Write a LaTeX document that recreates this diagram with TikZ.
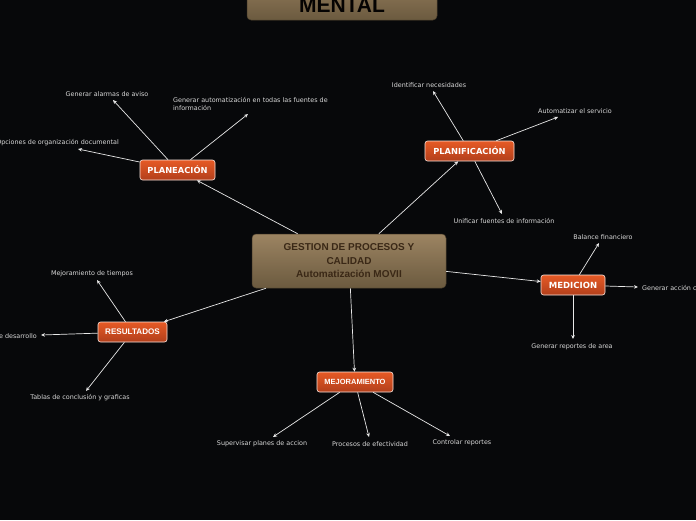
\documentclass[tikz,border=0pt]{standalone}
\usepackage{fontspec}
\setmainfont{DejaVu Sans}
\newfontfamily\arialf{Liberation Sans}
\usetikzlibrary{arrows.meta}
\definecolor{bgc}{HTML}{07080A}
\definecolor{orT}{HTML}{E65A25}
\definecolor{orB}{HTML}{B23F1B}
\definecolor{brT}{HTML}{9C8462}
\definecolor{brB}{HTML}{6B5A3F}
\definecolor{brText}{HTML}{3A2816}
\definecolor{leafc}{HTML}{D8D8D8}
\definecolor{linec}{HTML}{E8E8E8}
\tikzset{
  x=1pt,y=-1pt,
  mainbox/.style={draw=brB!70!black,line width=0.5pt,rounded corners=4pt,top color=brT,bottom color=brB,text=brText,align=center,inner sep=0pt},
  orbox/.style={draw=white!85!orT,line width=0.6pt,rounded corners=2.5pt,top color=orT,bottom color=orB,text=white,inner sep=0pt,minimum height=20pt},
  leaf/.style={text=leafc,font=\fontsize{6.4}{8.2}\selectfont,inner sep=0pt},
  conn/.style={draw=linec,line width=0.7pt,-{Stealth[length=4pt,width=3.6pt]}},
}
\begin{document}
\begin{tikzpicture}
\fill[bgc] (0,0) rectangle (696,520);
\useasboundingbox (0,0) rectangle (696,520);
\clip (0,0) rectangle (696,520);
% top partial node
\node[mainbox,minimum width=190pt,minimum height=50pt] (top) at (342,-5) {};
\node[font=\arialf\bfseries\fontsize{21}{24}\selectfont,text=black!92!brText,anchor=base,inner sep=0pt] (toplbl) at (342,12.5) {MENTAL};
% central
\node[mainbox,minimum width=194pt,minimum height=54pt,font=\arialf\bfseries\fontsize{10}{13.5}\selectfont] (c) at (349,261) {GESTION DE PROCESOS Y\\CALIDAD\\Automatización MOVII};
% main topics
\node[orbox,minimum width=75pt,font=\bfseries\fontsize{8.3}{9}\selectfont] (plan) at (177.5,170) {PLANEACIÓN};
\node[orbox,minimum width=89pt,font=\bfseries\fontsize{8.3}{9}\selectfont] (plani) at (469.5,151) {PLANIFICACIÓN};
\node[orbox,minimum width=64pt,font=\bfseries\fontsize{8.5}{9}\selectfont] (med) at (573,285) {MEDICION};
\node[orbox,minimum width=69pt,font=\arialf\bfseries\fontsize{8.1}{9}\selectfont] (res) at (132.5,332) {RESULTADOS};
\node[orbox,minimum width=76pt,font=\arialf\bfseries\fontsize{7.5}{9}\selectfont] (mej) at (355,382) {MEJORAMIENTO};
\draw[conn] (c) -- (plan);
\draw[conn] (c) -- (plani);
\draw[conn] (c) -- (med);
\draw[conn] (c) -- (res);
\draw[conn] (c) -- (mej);
% leaves PLANEACION
\node[leaf] (l1) at (107,94) {Generar alarmas de aviso};
\node[leaf,anchor=west,align=left] (l2) at (173,104) {Generar automatización en todas las fuentes de\\información};
\node[leaf,anchor=east] (l3) at (119,143) {Opciones de organización documental};
\coordinate (t1) at (113,100);
\coordinate (t2) at (248,114);
\coordinate (t3) at (78,149);
\draw[conn] (plan) -- (t1);
\draw[conn] (plan) -- (t2);
\draw[conn] (plan) -- (t3);
% leaves PLANIFICACION
\node[leaf] (l4) at (429,85) {Identificar necesidades};
\node[leaf] (l5) at (575,111) {Automatizar el servicio};
\node[leaf] (l6) at (504,221) {Unificar fuentes de información};
\coordinate (t4) at (433,91);
\coordinate (t5) at (558,117);
\coordinate (t6) at (502,214);
\draw[conn] (plani) -- (t4);
\draw[conn] (plani) -- (t5);
\draw[conn] (plani) -- (t6);
% leaves MEDICION
\node[leaf] (l7) at (603,237) {Balance financiero};
\node[leaf,anchor=west] (l8) at (642,288) {Generar acción correctiva};
\node[leaf] (l9) at (572,347) {Generar reportes de area};
\coordinate (t7) at (599,243);
\coordinate (t8) at (638,287);
\coordinate (t9) at (573,339);
\draw[conn] (med) -- (t7);
\draw[conn] (med) -- (t8);
\draw[conn] (med) -- (t9);
% leaves RESULTADOS
\node[leaf] (l10) at (92,274) {Mejoramiento de tiempos};
\node[leaf,anchor=east] (l11) at (37,336) {Plan de desarrollo};
\node[leaf] (l12) at (80,398) {Tablas de conclusión y graficas};
\coordinate (t10) at (97,280);
\coordinate (t11) at (41,335);
\coordinate (t12) at (86,391);
\draw[conn] (res) -- (t10);
\draw[conn] (res) -- (t11);
\draw[conn] (res) -- (t12);
% leaves MEJORAMIENTO
\node[leaf] (l13) at (262,444) {Supervisar planes de accion};
\node[leaf] (l14) at (370,444) {Procesos de efectividad};
\node[leaf] (l15) at (462,443) {Controlar reportes};
\coordinate (t13) at (273,437);
\coordinate (t14) at (369,437);
\coordinate (t15) at (450,436);
\draw[conn] (mej) -- (t13);
\draw[conn] (mej) -- (t14);
\draw[conn] (mej) -- (t15);
\end{tikzpicture}
\end{document}
